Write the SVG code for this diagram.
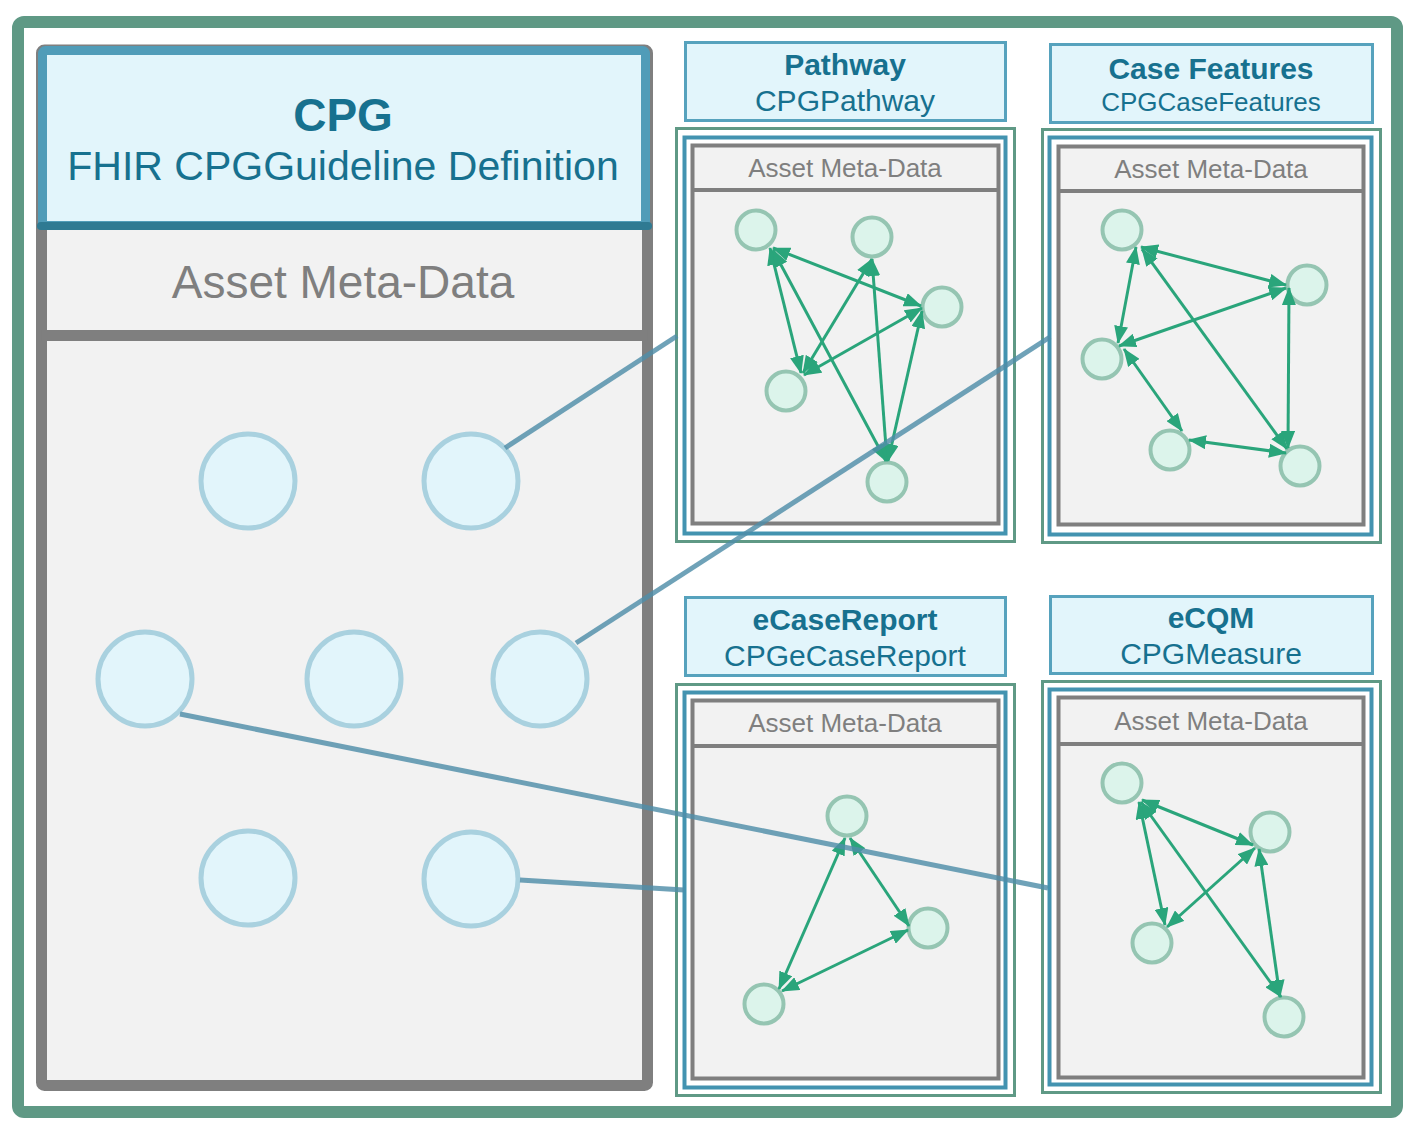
<svg xmlns="http://www.w3.org/2000/svg" width="1415" height="1132" viewBox="0 0 1415 1132">
<style>
.t{font-family:"Liberation Sans",Arial,sans-serif;text-anchor:middle}
.tb{font-weight:bold;fill:#17718f}
.tr{fill:#17718f}
.gm{fill:#7f7f7f}
.hdr{fill:#e2f5fb;stroke:#56a2bd;stroke-width:3}
.gr{fill:none;stroke:#5f9985;stroke-width:3}
.bl{fill:none;stroke:#4393b0;stroke-width:4}
.gy{fill:#f2f2f2;stroke:#7f7f7f;stroke-width:4}
.sep{stroke:#7f7f7f;stroke-width:4}
.n{fill:#dcf4eb;stroke:#95c5b2;stroke-width:4}
.e{stroke:#2aa57b;stroke-width:3;fill:none;marker-start:url(#ah);marker-end:url(#ah)}
.bc{fill:#e2f5fb;stroke:#a9d1df;stroke-width:5}
.cn{stroke:#4f8ea8;stroke-opacity:0.82;stroke-width:5;fill:none}
</style>
<defs>
<marker id="ah" markerUnits="userSpaceOnUse" markerWidth="18" markerHeight="14" refX="17" refY="7" orient="auto-start-reverse">
<path d="M0,0 L18,7 L0,14 z" fill="#2aa57b"/>
</marker>
</defs>
<rect x="0" y="0" width="1415" height="1132" fill="#ffffff"/>
<g id="frame">
<rect x="18" y="22" width="1379" height="1090" rx="6" fill="#ffffff" stroke="#5f9985" stroke-width="12"/>
</g>
<g id="cpg">
<rect x="41.5" y="50" width="606" height="1035.5" rx="3" fill="#f2f2f2" stroke="#7f7f7f" stroke-width="11"/>
<line x1="41.5" y1="335.5" x2="647.5" y2="335.5" stroke="#7f7f7f" stroke-width="11"/>
<rect x="42.5" y="50.5" width="603" height="175" rx="3" fill="#e2f5fb" stroke="#509cb8" stroke-width="9"/>
<line x1="41" y1="226" x2="648" y2="226" stroke="#2f7a92" stroke-width="8" stroke-linecap="round"/>
<text class="t tb" x="343" y="131" font-size="46">CPG</text>
<text class="t tr" x="343" y="180" font-size="41">FHIR CPGGuideline Definition</text>
<text class="t gm" x="343" y="298" font-size="46">Asset Meta-Data</text>
<circle class="bc" cx="248" cy="481" r="47"/>
<circle class="bc" cx="471" cy="481" r="47"/>
<circle class="bc" cx="145" cy="679" r="47"/>
<circle class="bc" cx="354" cy="679" r="47"/>
<circle class="bc" cx="540" cy="679" r="47"/>
<circle class="bc" cx="248" cy="878" r="47"/>
<circle class="bc" cx="471" cy="879" r="47"/>
</g>
<g id="pathway">
<rect class="hdr" x="685.5" y="42.5" width="320" height="78"/>
<text class="t tb" x="845" y="75" font-size="30">Pathway</text>
<text class="t tr" x="845" y="111" font-size="30">CPGPathway</text>
<rect class="gr" x="676.5" y="128.5" width="338" height="413"/>
<rect class="bl" x="684.5" y="137.5" width="321" height="396"/>
<rect class="gy" x="692.5" y="145.5" width="306" height="378"/>
<line class="sep" x1="692.5" y1="190" x2="998.5" y2="190"/>
<text class="t gm" x="845" y="177" font-size="26">Asset Meta-Data</text>
<circle class="n" cx="756" cy="230" r="19.5"/>
<circle class="n" cx="872" cy="237" r="19.5"/>
<circle class="n" cx="942" cy="307" r="19.5"/>
<circle class="n" cx="786" cy="391" r="19.5"/>
<circle class="n" cx="887" cy="482" r="19.5"/>
<line class="e" x1="773" y1="248" x2="921" y2="306"/>
<line class="e" x1="770" y1="248" x2="801" y2="373"/>
<line class="e" x1="773" y1="250" x2="886" y2="461"/>
<line class="e" x1="872" y1="259" x2="803" y2="373"/>
<line class="e" x1="872" y1="259" x2="887" y2="461"/>
<line class="e" x1="922" y1="308" x2="804" y2="375"/>
<line class="e" x1="922" y1="311" x2="888" y2="461"/>
</g>
<g id="casefeatures">
<rect class="hdr" x="1050.5" y="44.5" width="322" height="78"/>
<text class="t tb" x="1211" y="79" font-size="30">Case Features</text>
<text class="t tr" x="1211" y="111" font-size="26">CPGCaseFeatures</text>
<rect class="gr" x="1042.5" y="129.5" width="338" height="413"/>
<rect class="bl" x="1049.5" y="137.5" width="322" height="397"/>
<rect class="gy" x="1058.5" y="146.5" width="305" height="378"/>
<line class="sep" x1="1058.5" y1="191" x2="1363.5" y2="191"/>
<text class="t gm" x="1211" y="178" font-size="26">Asset Meta-Data</text>
<circle class="n" cx="1122" cy="230" r="19.5"/>
<circle class="n" cx="1307" cy="285" r="19.5"/>
<circle class="n" cx="1102" cy="359" r="19.5"/>
<circle class="n" cx="1170" cy="450" r="19.5"/>
<circle class="n" cx="1300" cy="466" r="19.5"/>
<line class="e" x1="1141" y1="247" x2="1286" y2="285"/>
<line class="e" x1="1136" y1="247" x2="1118" y2="343"/>
<line class="e" x1="1142" y1="249" x2="1287" y2="449"/>
<line class="e" x1="1286" y1="288" x2="1119" y2="346"/>
<line class="e" x1="1289" y1="288" x2="1288" y2="448"/>
<line class="e" x1="1124" y1="349" x2="1182" y2="431"/>
<line class="e" x1="1189" y1="440" x2="1286" y2="453"/>
</g>
<g id="ecasereport">
<rect class="hdr" x="685.5" y="597.5" width="320" height="78"/>
<text class="t tb" x="845" y="630" font-size="30">eCaseReport</text>
<text class="t tr" x="845" y="666" font-size="30">CPGeCaseReport</text>
<rect class="gr" x="676.5" y="684.5" width="338" height="411"/>
<rect class="bl" x="684.5" y="692.5" width="321" height="395"/>
<rect class="gy" x="692.5" y="700.5" width="306" height="378"/>
<line class="sep" x1="692.5" y1="746" x2="998.5" y2="746"/>
<text class="t gm" x="845" y="732" font-size="26">Asset Meta-Data</text>
<circle class="n" cx="847" cy="816" r="19.5"/>
<circle class="n" cx="928" cy="928" r="19.5"/>
<circle class="n" cx="764" cy="1004" r="19.5"/>
<line class="e" x1="850" y1="838" x2="909" y2="926"/>
<line class="e" x1="845" y1="838" x2="779" y2="989"/>
<line class="e" x1="908" y1="930" x2="782" y2="991"/>
</g>
<g id="ecqm">
<rect class="hdr" x="1050.5" y="596.5" width="322" height="77"/>
<text class="t tb" x="1211" y="628" font-size="30">eCQM</text>
<text class="t tr" x="1211" y="664" font-size="30">CPGMeasure</text>
<rect class="gr" x="1042.5" y="681.5" width="338" height="411"/>
<rect class="bl" x="1049.5" y="689.5" width="322" height="395"/>
<rect class="gy" x="1058.5" y="697.5" width="305" height="380"/>
<line class="sep" x1="1058.5" y1="744" x2="1363.5" y2="744"/>
<text class="t gm" x="1211" y="730" font-size="26">Asset Meta-Data</text>
<circle class="n" cx="1122" cy="783" r="19.5"/>
<circle class="n" cx="1270" cy="832" r="19.5"/>
<circle class="n" cx="1152" cy="943" r="19.5"/>
<circle class="n" cx="1284" cy="1017" r="19.5"/>
<line class="e" x1="1142" y1="800" x2="1253" y2="845"/>
<line class="e" x1="1139" y1="802" x2="1165" y2="925"/>
<line class="e" x1="1141" y1="802" x2="1281" y2="997"/>
<line class="e" x1="1255" y1="848" x2="1167" y2="927"/>
<line class="e" x1="1259" y1="849" x2="1280" y2="997"/>
</g>
<g id="connectors">
<line class="cn" x1="505" y1="448" x2="677" y2="336"/>
<line class="cn" x1="576" y1="643" x2="1050" y2="337"/>
<line class="cn" x1="180" y1="714" x2="1048" y2="888"/>
<line class="cn" x1="520" y1="880" x2="684" y2="890"/>
</g>
</svg>
